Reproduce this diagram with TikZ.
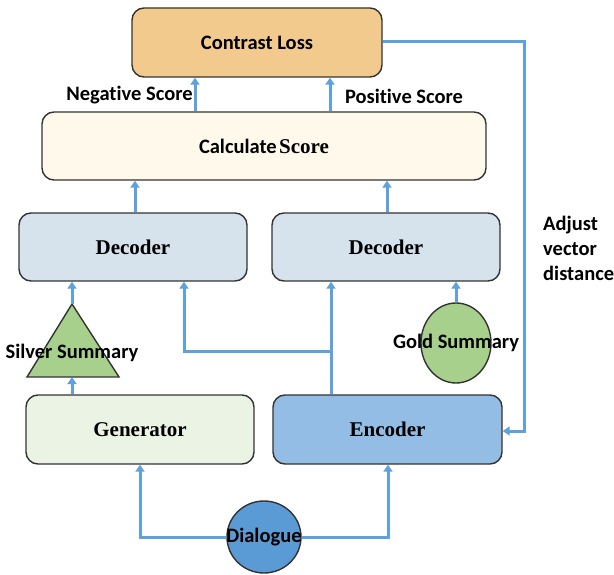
\documentclass[tikz,border=0pt]{standalone}
\usepackage{fontspec}
\setmainfont{Liberation Serif}
\newfontfamily\calfont[Ligatures=NoCommon]{Carlito}
\usetikzlibrary{arrows.meta,shapes.geometric,calc}
\definecolor{lossc}{HTML}{F3CA8E}
\definecolor{calcc}{HTML}{FEF9EA}
\definecolor{decc}{HTML}{D6E2EC}
\definecolor{genc}{HTML}{EBF3E5}
\definecolor{encc}{HTML}{93BDE4}
\definecolor{greenc}{HTML}{A8D08D}
\definecolor{dialc}{HTML}{5A9AD5}
\definecolor{linec}{HTML}{5DA2DF}
\definecolor{borderc}{HTML}{333333}
\begin{document}
\begin{tikzpicture}[x=1pt,y=-1pt,
  box/.style={draw=borderc,line width=1.4pt,rounded corners=12pt,inner sep=0pt},
  serifl/.style={font=\fontsize{21}{24}\selectfont\bfseries},
  sansl/.style={font=\calfont\fontsize{20.5}{24}\selectfont\bfseries},
  conn/.style={draw=linec,line width=3pt},
  arr/.style={conn,-{Triangle[width=9pt,length=7pt]}}]
\useasboundingbox (0,0) rectangle (614,575);
% boxes
\node[box,fill=lossc,minimum width=250pt,minimum height=69pt,sansl] (loss) at (257,42.5) {Contrast Loss};
\node[box,fill=calcc,minimum width=444pt,minimum height=68pt] (calc) at (264,146)
  {{\calfont\fontsize{20.5}{24}\selectfont\bfseries Calculate} {\fontsize{21}{24}\selectfont\bfseries Score}};
\node[box,fill=decc,minimum width=228pt,minimum height=68pt,serifl] (dec1) at (133,247) {Decoder};
\node[box,fill=decc,minimum width=228pt,minimum height=68pt,serifl] (dec2) at (386,247) {Decoder};
\node[box,fill=genc,minimum width=228pt,minimum height=69pt,serifl] (gen) at (140,429.5) {Generator};
\node[box,fill=encc,minimum width=229pt,minimum height=69pt,serifl] (enc) at (387.5,429.5) {Encoder};
% silver summary triangle
\coordinate (stop) at (72,304);
\coordinate (sbot) at (72,377);
\draw[borderc,line width=1.4pt,fill=greenc] (stop) -- (119,377) -- (27,377) -- cycle;
\node[sansl] (silver) at (72,353) {Silver Summary};
% gold summary
\node[ellipse,draw=borderc,line width=1.4pt,fill=greenc,minimum width=70pt,minimum height=80pt,inner sep=0pt] (goldc) at (456,343) {};
\node[sansl] (gold) at (456,343) {Gold Summary};
% dialogue
\node[ellipse,draw=borderc,line width=1.4pt,fill=dialc,minimum width=74pt,minimum height=72pt,inner sep=0pt] (dialc) at (264,537) {};
\node[sansl,inner sep=0pt] (dial) at (264,537) {Dialogue};
% labels
\node[sansl] (neg) at (129.5,95) {Negative Score};
\node[sansl] (pos) at (404,96) {Positive Score};
\node[anchor=west,align=left,inner sep=0pt,font=\calfont\fontsize{20.5}{25}\selectfont\bfseries] (adj) at (543,248) {Adjust\\vector\\distance};
% coordinates
\coordinate (xn) at (195,0);
\coordinate (xp) at (330,0);
\coordinate (xd1) at (135,0);
\coordinate (xd2) at (387,0);
\coordinate (xs) at (72,0);
\coordinate (xe) at (331,0);
\coordinate (xb) at (184,351);
\coordinate (xg) at (456,0);
\coordinate (fb) at (524,42);
\coordinate (fb2) at (524,431);
\coordinate (dl) at (140,537);
\coordinate (dr) at (388,537);
% connectors
\draw[arr] (xn |- calc.north) -- (xn |- loss.south);
\draw[arr] (xp |- calc.north) -- (xp |- loss.south);
\draw[arr] (xd1 |- dec1.north) -- (xd1 |- calc.south);
\draw[arr] (xd2 |- dec2.north) -- (xd2 |- calc.south);
\draw[arr] (stop) -- (xs |- dec1.south);
\draw[arr] (xs |- gen.north) -- (sbot);
\draw[arr] (xe |- enc.north) -- (xe |- dec2.south);
\draw[arr] (xe |- xb) -- (xb) -- (xb |- dec1.south);
\draw[arr] (xg |- goldc.north) -- (xg |- dec2.south);
\draw[arr] (loss.east |- fb) -- (fb) -- (fb2) -- (enc.east |- fb2);
\draw[arr] (dialc.west) -- (dl) -- (dl |- gen.south);
\draw[arr] (dialc.east) -- (dr) -- (dr |- enc.south);
\end{tikzpicture}
\end{document}
